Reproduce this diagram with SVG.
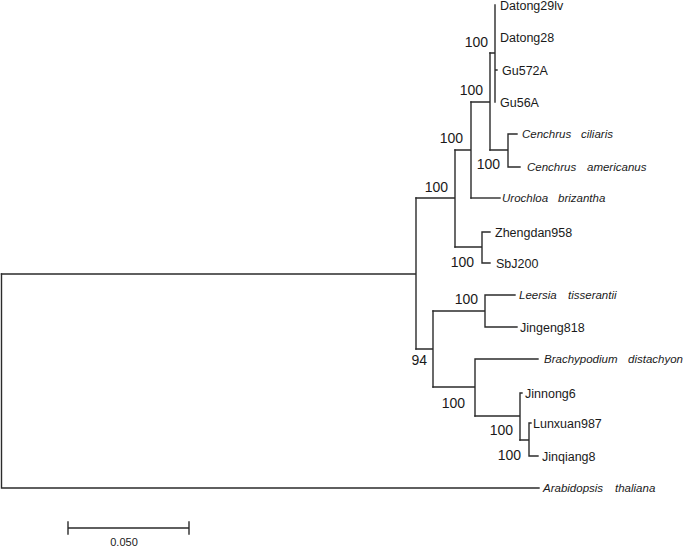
<svg xmlns="http://www.w3.org/2000/svg" width="685" height="546" viewBox="0 0 685 546">
<style>
.br{fill:none;stroke:#2b2b2b;stroke-width:1.4;stroke-linecap:square}
.lf{font-family:"Liberation Sans",Arial,sans-serif;font-size:12.5px;fill:#1a1a1a}
.it{font-family:"Liberation Sans",Arial,sans-serif;font-size:11.5px;font-style:italic;fill:#1a1a1a}
.bs{font-family:"Liberation Sans",Arial,sans-serif;font-size:14px;fill:#1a1a1a;text-anchor:end}
.sc{font-family:"Liberation Sans",Arial,sans-serif;font-size:11px;fill:#1a1a1a;text-anchor:middle}
</style>
<rect width="685" height="546" fill="#ffffff"/>
<g id="connectors">
<path class="br" d="M1.5,274 V488 H539"/>
<path class="br" d="M1.5,274 H416 M416,198 V349"/>
<path class="br" d="M416,198 H455 M455,150 V247"/>
<path class="br" d="M455,150 H471 M471,102 V198"/>
<path class="br" d="M471,102 H490 M490,53 V150"/>
<path class="br" d="M490,53 H495 M495,5 V102 M495,70 H497"/>
<path class="br" d="M490,150 H508 M508,134 V167 M508,134 H517 M508,167 H520"/>
<path class="br" d="M471,198 H500"/>
<path class="br" d="M455,247 H482 M482,232 V263 M482,232 H490 M482,263 H490"/>
<path class="br" d="M416,349 H433 M433,311 V387"/>
<path class="br" d="M433,311 H485 M485,295 V327 M485,295 H515 M485,327 H517"/>
<path class="br" d="M433,387 H475 M475,359 V416 M475,359 H538"/>
<path class="br" d="M475,416 H520 M520,393 V440 M520,393 H522"/>
<path class="br" d="M520,440 H529 M529,423 V456 M529,423 H531 M529,456 H538"/>
</g>
<g id="leaf-datong29lv"><text class="lf" x="500" y="9.5">Datong29lv</text></g>
<g id="leaf-datong28"><text class="lf" x="500" y="41.5">Datong28</text></g>
<g id="leaf-gu572a"><text class="lf" x="502" y="74.5">Gu572A</text></g>
<g id="leaf-gu56a"><text class="lf" x="500" y="106.5">Gu56A</text></g>
<g id="leaf-cenchrus-ciliaris"><text class="it" y="138"><tspan x="522">Cenchrus</tspan><tspan x="581">ciliaris</tspan></text></g>
<g id="leaf-cenchrus-americanus"><text class="it" y="171"><tspan x="527">Cenchrus</tspan><tspan x="587">americanus</tspan></text></g>
<g id="leaf-urochloa"><text class="it" y="202"><tspan x="502">Urochloa</tspan><tspan x="558">brizantha</tspan></text></g>
<g id="leaf-zhengdan958"><text class="lf" x="495" y="236.5">Zhengdan958</text></g>
<g id="leaf-sbj200"><text class="lf" x="496" y="267.5">SbJ200</text></g>
<g id="leaf-leersia"><text class="it" y="299"><tspan x="519">Leersia</tspan><tspan x="568">tisserantii</tspan></text></g>
<g id="leaf-jingeng818"><text class="lf" x="520" y="331.5">Jingeng818</text></g>
<g id="leaf-brachypodium"><text class="it" y="363"><tspan x="544">Brachypodium</tspan><tspan x="628">distachyon</tspan></text></g>
<g id="leaf-jinnong6"><text class="lf" x="525" y="397.5">Jinnong6</text></g>
<g id="leaf-lunxuan987"><text class="lf" x="533" y="427.5">Lunxuan987</text></g>
<g id="leaf-jinqiang8"><text class="lf" x="542" y="460.5">Jinqiang8</text></g>
<g id="leaf-arabidopsis"><text class="it" y="492"><tspan x="543">Arabidopsis</tspan><tspan x="615">thaliana</tspan></text></g>
<g id="node-datong"><text class="bs" x="488" y="47">100</text></g>
<g id="node-panicoid-core"><text class="bs" x="483" y="95">100</text></g>
<g id="node-cenchrus"><text class="bs" x="500" y="169">100</text></g>
<g id="node-panicoid"><text class="bs" x="463" y="143">100</text></g>
<g id="node-panicoideae"><text class="bs" x="448" y="192">100</text></g>
<g id="node-sorghum"><text class="bs" x="474" y="267">100</text></g>
<g id="node-oryza"><text class="bs" x="478" y="304">100</text></g>
<g id="node-bop"><text class="bs" x="427" y="365">94</text></g>
<g id="node-pooideae"><text class="bs" x="465" y="408">100</text></g>
<g id="node-wheat"><text class="bs" x="513" y="435">100</text></g>
<g id="node-wheat2"><text class="bs" x="521" y="460">100</text></g>
<g id="scale-bar">
<path class="br" d="M68,528 H189 M68,522 V534 M189,522 V534"/>
<text class="sc" x="124" y="545.5">0.050</text>
</g>
</svg>
